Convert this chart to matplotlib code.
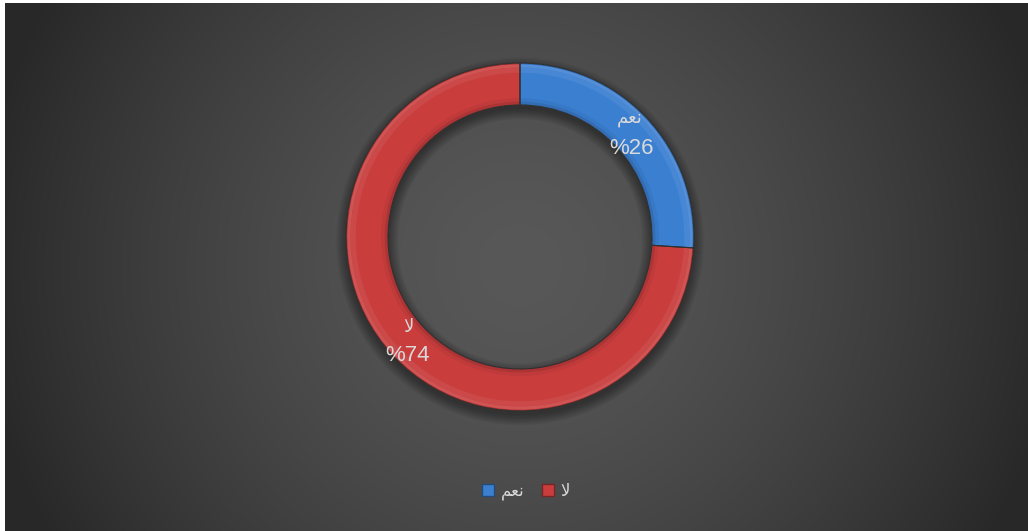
import numpy as np
import matplotlib
matplotlib.use("Agg")
import matplotlib.pyplot as plt
from matplotlib.patches import Patch
import matplotlib.colors as mcolors

# ---- data ----
categories = ["نعم", "لا"]            # yes, no
values = [26, 74]
pct_labels = ["%26", "%74"]
colors = ["#3b7fd1", "#c93d3d"]

# shaped (visual order) Arabic text for rendering
shaped = {"نعم": "\uFEE2\uFECC\uFEE7", "لا": "\uFEFB"}

W, H, DPI = 1028, 531, 100
fig = plt.figure(figsize=(W / DPI, H / DPI), dpi=DPI)
fig.patch.set_facecolor("white")

# ---- background radial gradient ----
bg = fig.add_axes([5 / W, 0, (W - 5) / W, (H - 3) / H])
bg.set_axis_off()
yy, xx = np.mgrid[0:H - 3, 0:W - 5]
r = np.hypot(xx + 5 - 520, yy + 3 - 265)
c = 88 - 44 * np.clip(r / 515, 0, 1.1) ** 1.5
c = np.clip(c, 40, 90) / 255.0
img = np.dstack([c, c, c])
bg.imshow(img, aspect="auto", interpolation="bilinear")

# ---- donut ----
R_PX = 174
cx, cy = 520, 237
half = 190
ax = fig.add_axes([(cx - half) / W, (H - cy - half) / H, 2 * half / W, 2 * half / H])

inner = 132 / R_PX
width = 1 - inner

# soft shadow below ring
for i in range(8):
    ax.pie(values, radius=1.0 + 0.008 * i, startangle=90, counterclock=False,
           colors=["black"] * 2, center=(0.0, -0.025),
           wedgeprops=dict(width=width + 0.016 * i, alpha=0.05, linewidth=0))

# main ring
ax.pie(values, radius=1.0, startangle=90, counterclock=False, colors=colors,
       wedgeprops=dict(width=width, linewidth=0))

def shade(col, f):
    rgb = np.array(mcolors.to_rgb(col))
    if f >= 0:
        return tuple(rgb + (1 - rgb) * f)
    return tuple(rgb * (1 + f))

# bevel shading: bands across the ring width (tube look)
bands = [(1.00, 0.008, -0.20), (0.992, 0.018, 0.12), (0.974, 0.03, 0.06),
         (inner + 0.04, 0.02, -0.05), (inner + 0.02, 0.02, -0.14)]
for rad, w, f in bands:
    ax.pie(values, radius=rad, startangle=90, counterclock=False,
           colors=[shade(cc, f) for cc in colors],
           wedgeprops=dict(width=w, linewidth=0))

# outline on top
ax.pie(values, radius=1.0, startangle=90, counterclock=False,
       colors=["none", "none"],
       wedgeprops=dict(width=width, linewidth=0.8, edgecolor="#303030"))

ax.set_xlim(-half / R_PX, half / R_PX)
ax.set_ylim(-half / R_PX, half / R_PX)
ax.set_aspect("equal")
ax.set_axis_off()

# ---- data labels ----
text_col = "#d9d9d9"
fam = ["Liberation Sans", "DejaVu Sans"]
lab_pos = [((630 - cx) / R_PX, -(118 - cy) / R_PX, (632 - cx) / R_PX, -(148 - cy) / R_PX),
           ((408 - cx) / R_PX, -(327 - cy) / R_PX, (408 - cx) / R_PX, -(356 - cy) / R_PX)]
for cat, pl, (x1, y1, x2, y2) in zip(categories, pct_labels, lab_pos):
    ax.text(x1, y1, shaped[cat], ha="center", va="center", fontsize=13,
            color=text_col, family=fam)
    ax.text(x2, y2, pl, ha="center", va="center", fontsize=16,
            color=text_col, family=fam)

# ---- legend ----
handles = [Patch(facecolor=cc, edgecolor=shade(cc, -0.4)) for cc in colors]
leg = fig.legend(handles, [shaped[c_] for c_ in categories], ncol=2,
                 loc="center", bbox_to_anchor=(526 / W, 1 - 492 / H),
                 frameon=False, handlelength=0.75, handleheight=0.75,
                 handletextpad=0.4, columnspacing=1.0,
                 prop={"family": fam, "size": 12})
for t in leg.get_texts():
    t.set_color(text_col)

fig.savefig("out.png", dpi=DPI, facecolor=fig.get_facecolor())
